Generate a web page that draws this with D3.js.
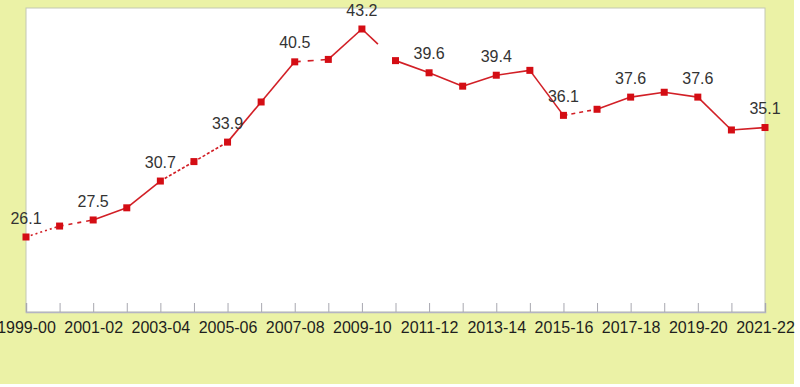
<!DOCTYPE html>
<html>
<head>
<meta charset="utf-8">
<script src="https://cdn.jsdelivr.net/npm/d3@7"></script>
<style>
  body { margin: 0; background: #ffffff; }
  text { font-family: Arial, "Liberation Sans", sans-serif; }
</style>
</head>
<body>
<div id="chart"></div>
<script>
// data
const years = ["1999-00","2000-01","2001-02","2002-03","2003-04","2004-05","2005-06","2006-07",
  "2007-08","2008-09","2009-10","2010-11","2011-12","2012-13","2013-14","2014-15","2015-16",
  "2016-17","2017-18","2018-19","2019-20","2020-21","2021-22"]
const values = [26.1, 27.0, 27.5, 28.5, 30.7, 32.3, 33.9, 37.2, 40.5, 40.7, 43.2, 40.6, 39.6,
  38.5, 39.4, 39.8, 36.1, 36.6, 37.6, 38.0, 37.6, 34.9, 35.1]
const labelled = ["1999-00","2001-02","2003-04","2005-06","2007-08","2009-10","2011-12",
  "2013-14","2015-16","2017-18","2019-20","2021-22"]
const tickLabels = years.filter((d, i) => i % 2 == 0)

// line style of each segment (i -> i+1)
const segDash = ["2,3","4,5",null,null,"3,2","3,2",null,null,"6,7",null,"22,100",
  null,null,null,null,null,"4,4",null,null,null,null,null]

const w = 800
const h = 387

const svg = d3.select("#chart")
  .append('svg')
  .attr('width', w)
  .attr('height', h)

// background
svg.append('rect')
  .attr('x', 0).attr('y', 0)
  .attr('width', 794).attr('height', 384)
  .attr('fill', '#ebf2a6')

const x = d3.scalePoint()
  .domain(years)
  .range([26, 765])

const y = d3.scaleLinear()
  .domain([26.1, 43.2])
  .range([237, 29])

// plot area
svg.append('rect')
  .attr('x', 26).attr('y', 8)
  .attr('width', 739).attr('height', 304)
  .attr('fill', 'white')
  .attr('stroke', '#c4c8b4')
  .attr('stroke-width', 1)

// x axis
const xAxis = d3.axisBottom(x)
  .tickSize(-9)
  .tickPadding(14)
  .tickFormat(d => tickLabels.includes(d) ? d : "")

const ax = svg.append('g')
  .attr('transform', 'translate(0,312)')
  .call(xAxis)
ax.select('.domain').attr('stroke', '#b4b4c4').attr('stroke-width', 1.5)
ax.selectAll('.tick line').attr('stroke', '#a8a8b0')
ax.selectAll('.tick text')
  .attr('font-size', '16px')
  .attr('fill', '#1e1e1e')
  .attr('dy', '0.45em')

// line segments
const pts = years.map((d, i) => ({year: d, value: values[i]}))
const line = d3.line().x(d => x(d.year)).y(d => y(d.value))

for (let i = 0; i < pts.length - 1; i++) {
  svg.append('path')
    .attr('d', line([pts[i], pts[i + 1]]))
    .attr('fill', 'none')
    .attr('stroke', '#d21f26')
    .attr('stroke-width', 1.6)
    .attr('stroke-dasharray', segDash[i])
}

// markers
svg.selectAll('.mk')
  .data(pts)
  .enter()
  .append('rect')
  .attr('class', 'mk')
  .attr('x', d => x(d.year) - 3.5)
  .attr('y', d => y(d.value) - 3.5)
  .attr('width', 7)
  .attr('height', 7)
  .attr('fill', '#d40d14')

// value labels
svg.selectAll('.lbl')
  .data(pts.filter(d => labelled.includes(d.year)))
  .enter()
  .append('text')
  .attr('class', 'lbl')
  .attr('x', d => x(d.year))
  .attr('y', d => y(d.value) - 19)
  .attr('dy', '0.35em')
  .attr('text-anchor', 'middle')
  .attr('font-size', '16px')
  .attr('fill', '#333333')
  .text(d => d.value.toFixed(1))
</script>
</body>
</html>
